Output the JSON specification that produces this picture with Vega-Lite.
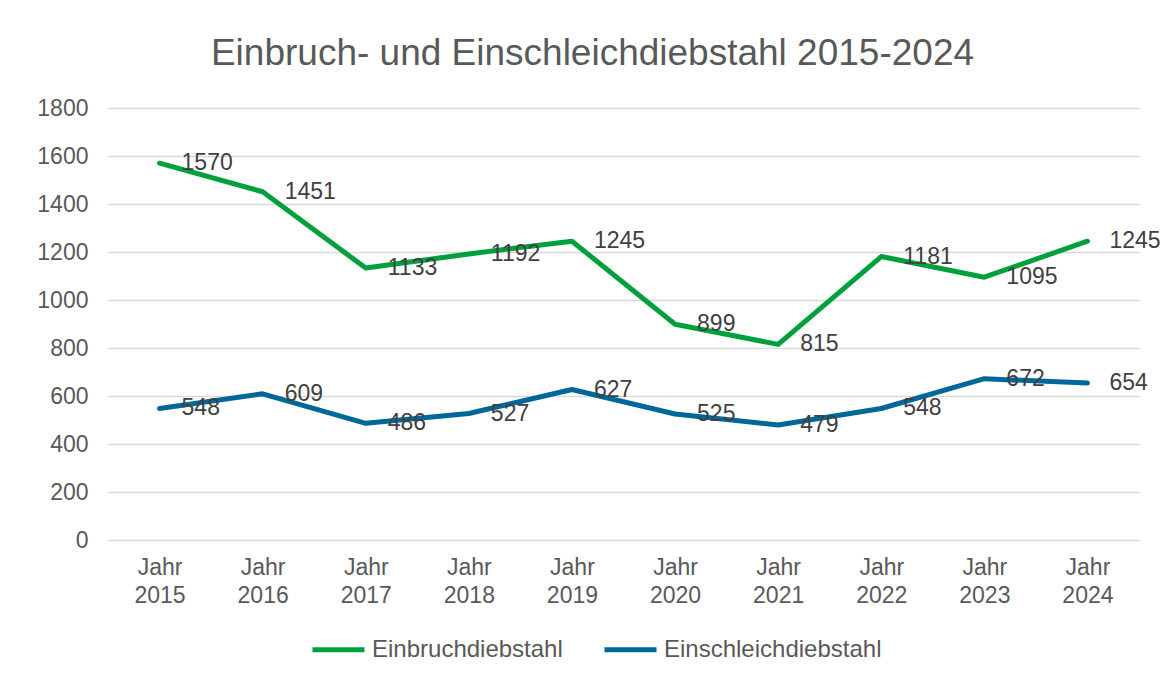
{
  "$schema": "https://vega.github.io/schema/vega-lite/v6.json",
  "autosize": {"type": "none"},
  "width": 1031,
  "height": 432,
  "padding": {"left": 108, "top": 108, "right": 23, "bottom": 135},
  "background": "white",
  "title": {
    "text": "Einbruch- und Einschleichdiebstahl 2015-2024",
    "fontSize": 37,
    "font": "Liberation Sans",
    "fontWeight": "normal",
    "color": "#595959",
    "anchor": "middle",
    "dx": -31,
    "offset": 24
  },
  "config": {"view": {"stroke": null}, "font": "Liberation Sans"},
  "data": {
    "values": [
      {"jahr": "Jahr 2015", "serie": "Einbruchdiebstahl", "wert": 1570},
      {"jahr": "Jahr 2016", "serie": "Einbruchdiebstahl", "wert": 1451},
      {"jahr": "Jahr 2017", "serie": "Einbruchdiebstahl", "wert": 1133},
      {"jahr": "Jahr 2018", "serie": "Einbruchdiebstahl", "wert": 1192},
      {"jahr": "Jahr 2019", "serie": "Einbruchdiebstahl", "wert": 1245},
      {"jahr": "Jahr 2020", "serie": "Einbruchdiebstahl", "wert": 899},
      {"jahr": "Jahr 2021", "serie": "Einbruchdiebstahl", "wert": 815},
      {"jahr": "Jahr 2022", "serie": "Einbruchdiebstahl", "wert": 1181},
      {"jahr": "Jahr 2023", "serie": "Einbruchdiebstahl", "wert": 1095},
      {"jahr": "Jahr 2024", "serie": "Einbruchdiebstahl", "wert": 1245},
      {"jahr": "Jahr 2015", "serie": "Einschleichdiebstahl", "wert": 548},
      {"jahr": "Jahr 2016", "serie": "Einschleichdiebstahl", "wert": 609},
      {"jahr": "Jahr 2017", "serie": "Einschleichdiebstahl", "wert": 486},
      {"jahr": "Jahr 2018", "serie": "Einschleichdiebstahl", "wert": 527},
      {"jahr": "Jahr 2019", "serie": "Einschleichdiebstahl", "wert": 627},
      {"jahr": "Jahr 2020", "serie": "Einschleichdiebstahl", "wert": 525},
      {"jahr": "Jahr 2021", "serie": "Einschleichdiebstahl", "wert": 479},
      {"jahr": "Jahr 2022", "serie": "Einschleichdiebstahl", "wert": 548},
      {"jahr": "Jahr 2023", "serie": "Einschleichdiebstahl", "wert": 672},
      {"jahr": "Jahr 2024", "serie": "Einschleichdiebstahl", "wert": 654}
    ]
  },
  "encoding": {
    "x": {
      "field": "jahr",
      "type": "ordinal",
      "sort": null,
      "scale": {"type": "point", "padding": 0.5},
      "axis": {
        "title": null,
        "domain": false,
        "ticks": false,
        "grid": false,
        "labelAngle": 0,
        "labelFontSize": 23,
        "labelColor": "#595959",
        "labelLineHeight": 28,
        "labelPadding": 16,
        "labelExpr": "split(datum.label, ' ')"
      }
    },
    "y": {
      "field": "wert",
      "type": "quantitative",
      "scale": {"domain": [0, 1800]},
      "axis": {
        "title": null,
        "format": "d",
        "values": [0, 200, 400, 600, 800, 1000, 1200, 1400, 1600, 1800],
        "domain": false,
        "ticks": false,
        "grid": true,
        "gridColor": "#d9d9d9",
        "gridWidth": 1.5,
        "labelFontSize": 23,
        "labelColor": "#595959",
        "labelPadding": 20
      }
    }
  },
  "layer": [
    {
      "mark": {"type": "line", "strokeWidth": 5, "strokeCap": "round", "strokeJoin": "round"},
      "encoding": {
        "color": {
          "field": "serie",
          "type": "nominal",
          "scale": {"domain": ["Einbruchdiebstahl", "Einschleichdiebstahl"], "range": ["#00a03c", "#00679a"]},
          "legend": {
            "title": null,
            "orient": "none",
            "legendX": 202,
            "legendY": 513,
            "direction": "horizontal",
            "padding": 0,
            "symbolType": "stroke",
            "symbolSize": 2704,
            "symbolStrokeWidth": 5,
            "labelFontSize": 24,
            "labelColor": "#595959",
            "labelLimit": 0,
            "labelOffset": 5,
            "columnPadding": 31
          }
        }
      }
    },
    {
      "mark": {"type": "text", "align": "left", "baseline": "middle", "dx": 22, "fontSize": 23, "color": "#404040"},
      "encoding": {
        "text": {"field": "wert", "type": "quantitative"}
      }
    }
  ]
}
